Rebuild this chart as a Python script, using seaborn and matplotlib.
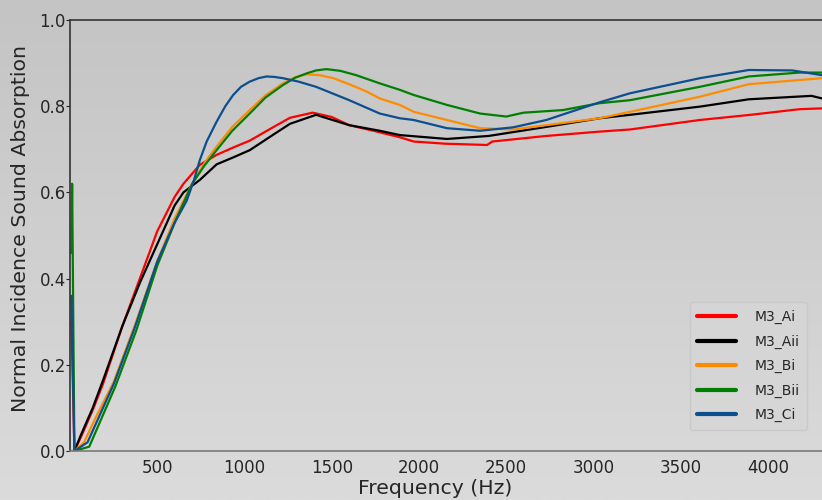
import numpy as np
import pandas as pd
import seaborn as sns
import matplotlib.pyplot as plt

# Values (frequency in Hz, absorption coefficient)
ai_freq = [8, 25, 60, 130, 190, 300, 400, 500, 600, 650, 744, 840, 940, 1030, 1150,
           1260, 1390, 1500, 1600, 1750, 1890, 1970, 2150, 2390, 2420, 2730, 3035,
           3210, 3610, 3900, 4180, 4310]
ai_alpha = [0.30, 0.0, 0.03, 0.095, 0.157, 0.29, 0.40, 0.51, 0.59, 0.62, 0.664, 0.687,
            0.705, 0.72, 0.748, 0.773, 0.785, 0.775, 0.756, 0.742, 0.728, 0.718, 0.713,
            0.710, 0.718, 0.731, 0.741, 0.746, 0.768, 0.78, 0.793, 0.795]

aii_freq = [8, 25, 60, 130, 190, 300, 400, 500, 600, 650, 744, 840, 940, 1030, 1150,
            1260, 1410, 1600, 1775, 1890, 2160, 2400, 2730, 3035, 3210, 3610, 3890,
            4250, 4310]
aii_alpha = [0.0, 0.0, 0.035, 0.10, 0.165, 0.29, 0.39, 0.48, 0.57, 0.60, 0.629, 0.665,
             0.682, 0.698, 0.730, 0.759, 0.78, 0.756, 0.743, 0.733, 0.724, 0.731, 0.752,
             0.772, 0.780, 0.799, 0.816, 0.824, 0.818]

bi_freq = [8, 25, 80, 150, 250, 370, 500, 600, 650, 700, 770, 840, 930, 1030, 1120,
           1220, 1290, 1355, 1430, 1510, 1600, 1700, 1775, 1890, 1970, 2160, 2350,
           2540, 2730, 3035, 3210, 3610, 3890, 4310]
bi_alpha = [0.0, 0.0, 0.02, 0.08, 0.16, 0.29, 0.44, 0.54, 0.58, 0.62, 0.668, 0.706,
            0.752, 0.791, 0.825, 0.853, 0.867, 0.874, 0.872, 0.865, 0.851, 0.834, 0.818,
            0.803, 0.787, 0.768, 0.749, 0.746, 0.756, 0.772, 0.787, 0.822, 0.851, 0.865]

bii_freq = [8, 12, 25, 110, 260, 380, 500, 600, 700, 770, 840, 930, 1030, 1120, 1220,
            1290, 1355, 1410, 1470, 1550, 1640, 1775, 1890, 1970, 2160, 2350, 2500,
            2600, 2825, 3035, 3210, 3610, 3890, 4180, 4310]
bii_alpha = [0.46, 0.62, 0.0, 0.01, 0.15, 0.28, 0.43, 0.53, 0.62, 0.662, 0.698, 0.743,
             0.783, 0.820, 0.849, 0.866, 0.876, 0.883, 0.886, 0.882, 0.872, 0.853, 0.838,
             0.826, 0.803, 0.783, 0.776, 0.785, 0.791, 0.807, 0.814, 0.845, 0.869, 0.878,
             0.878]

ci_freq = [8, 25, 100, 250, 370, 500, 600, 668, 710, 744, 783, 840, 890, 935, 980, 1030,
           1080, 1126, 1170, 1220, 1310, 1410, 1600, 1775, 1890, 1970, 2160, 2350, 2540,
           2730, 2960, 3035, 3210, 3610, 3890, 4140, 4310]
ci_alpha = [0.36, 0.0, 0.02, 0.155, 0.285, 0.44, 0.53, 0.58, 0.628, 0.675, 0.718, 0.764,
            0.800, 0.826, 0.845, 0.857, 0.865, 0.869, 0.868, 0.865, 0.857, 0.845, 0.814,
            0.783, 0.772, 0.768, 0.749, 0.743, 0.751, 0.768, 0.799, 0.809, 0.830, 0.865,
            0.884, 0.883, 0.872]

labels = ['M3_Ai', 'M3_Aii', 'M3_Bi', 'M3_Bii', 'M3_Ci']
colors = ['#ff0000', '#000000', '#ff8c00', '#008000', '#0b4f8f']

# long-form table for seaborn
frames = []
for name, f, a in zip(labels,
                      [ai_freq, aii_freq, bi_freq, bii_freq, ci_freq],
                      [ai_alpha, aii_alpha, bi_alpha, bii_alpha, ci_alpha]):
    frames.append(pd.DataFrame({'freq': f, 'alpha': a, 'sample': name}))
df = pd.concat(frames, ignore_index=True)

sns.set_style('ticks')
plt.rcParams['font.family'] = ['DejaVu Sans']

fig = plt.figure(figsize=(8.22, 5), dpi=100)

# grey vertical gradient behind everything (darker at the top)
bg = fig.add_axes([0, 0, 1, 1], zorder=-10)
shade = np.linspace(196, 219, 256) / 255.0
grad = np.repeat(shade[:, None, None], 3, axis=2)
bg.imshow(grad, aspect='auto', extent=[0, 1, 0, 1], origin='upper')
bg.axis('off')

ax = fig.add_axes([0.0852, 0.098, 0.9148, 0.862])
ax.patch.set_alpha(0)

sns.lineplot(data=df, x='freq', y='alpha', hue='sample', palette=colors,
             hue_order=labels, estimator=None, sort=False, linewidth=1.6, ax=ax)

ax.set_xlim(0, 4310)
ax.set_ylim(0, 1.0)
ax.set_xticks([500, 1000, 1500, 2000, 2500, 3000, 3500, 4000])
ax.set_yticks([0.0, 0.2, 0.4, 0.6, 0.8, 1.0])
ax.tick_params(axis='x', length=0, labelsize=12, pad=6)
ax.tick_params(axis='y', length=3, labelsize=12, pad=0, direction='out')
ax.set_xlabel('Frequency (Hz)', fontsize=14.7)
ax.xaxis.set_label_coords(0.485, -0.064)
ax.set_ylabel('Normal Incidence Sound Absorption', fontsize=14.7)
ax.yaxis.set_label_coords(-0.053, 0.517)

for side in ['left', 'top']:
    ax.spines[side].set_visible(True)
    ax.spines[side].set_color('#333333')
    ax.spines[side].set_linewidth(1.2)
ax.spines['bottom'].set_color('#7a7a7a')
ax.spines['bottom'].set_linewidth(1.2)
ax.spines['right'].set_visible(False)

leg = ax.legend(loc='lower right', bbox_to_anchor=(0.98, 0.049), borderaxespad=0,
                fontsize=10, handlelength=2.8, handletextpad=1.3, labelspacing=0.75,
                borderpad=0.55, frameon=True, fancybox=True)
leg.get_frame().set_facecolor('#d6d6d6')
leg.get_frame().set_edgecolor('#c8c8c8')
leg.get_frame().set_alpha(0.9)
for line in leg.get_lines():
    line.set_linewidth(3)

fig.savefig('out.png', dpi=100)
